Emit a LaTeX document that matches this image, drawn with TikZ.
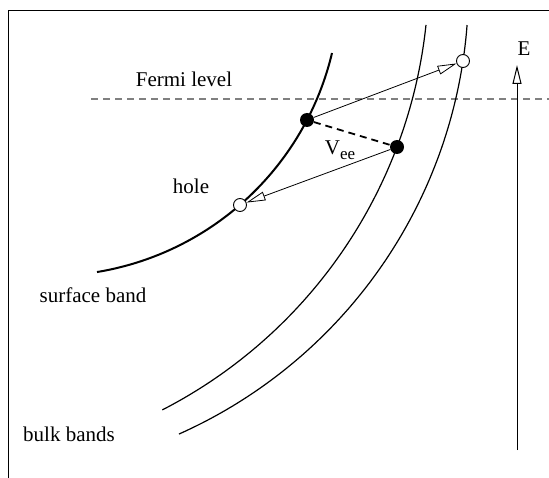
\documentclass[tikz,border=0pt]{standalone}
\usepackage{fontspec}
\setmainfont{Liberation Serif}
\usetikzlibrary{arrows.meta}
\begin{document}
\begin{tikzpicture}[x=1pt,y=-1pt,
  lbl/.style={font=\fontsize{21}{21}\selectfont, inner sep=0pt, anchor=base},
  band/.style={line width=1.2pt},
  sband/.style={line width=2pt},
  edot/.style={circle, fill=black, inner sep=0pt, minimum size=14pt},
  hdot/.style={circle, draw=black, fill=white, line width=0.9pt, inner sep=0pt, minimum size=13pt},
  trans/.style={line width=0.8pt, -{Triangle[open, length=19pt, width=9pt]}},
]
\useasboundingbox (0,0) rectangle (549,478);
\draw[line width=1.2pt] (8.5,478) -- (8.5,10.5) -- (549,10.5);
\draw[gray, line width=1.2pt, dash pattern=on 7pt off 5pt] (91,99) -- (549,99);
% bands
\draw[band] plot[domain=6.02:62.8, samples=80, variable=\t] ({-62+490.7*cos(\t)},{-26.5+490.7*sin(\t)});
\draw[band] plot[domain=4.35:65.97, samples=80, variable=\t] ({-19.9+488.4*cos(\t)},{-12+488.4*sin(\t)});
\draw[sband] plot[domain=13.38:80.65, samples=80, variable=\t] ({49.9+290*cos(\t)},{-14.1+290*sin(\t)});
% states
\node[edot] (e1) at (307,120) {};
\node[edot] (e2) at (397,147) {};
\node[hdot] (h1) at (463,61) {};
\node[hdot] (h2) at (240,205) {};
% transitions
\draw[trans] (e1) -- (h1);
\draw[trans] (e2) -- (h2);
\draw[line width=1.8pt, dash pattern=on 7pt off 5pt] (e1) -- (e2);
% energy axis
\coordinate (Ebot) at (517,450);
\coordinate (Etop) at (517,65);
\draw[line width=1pt, -{Triangle[open, length=19pt, width=9pt]}] (Ebot) -- (Etop);
% labels
\node[lbl] (fermi) at (184,87) {Fermi level};
\node[lbl] (hole) at (191,194) {hole};
\node[lbl] (surf) at (93,303) {surface band};
\node[lbl] (bulk) at (69,441) {bulk bands};
\node[lbl] (E) at (524,56) {E};
\node[lbl] (vee) at (340,155) {V\raisebox{-5pt}{\fontsize{17}{17}\selectfont ee}};
\end{tikzpicture}
\end{document}
